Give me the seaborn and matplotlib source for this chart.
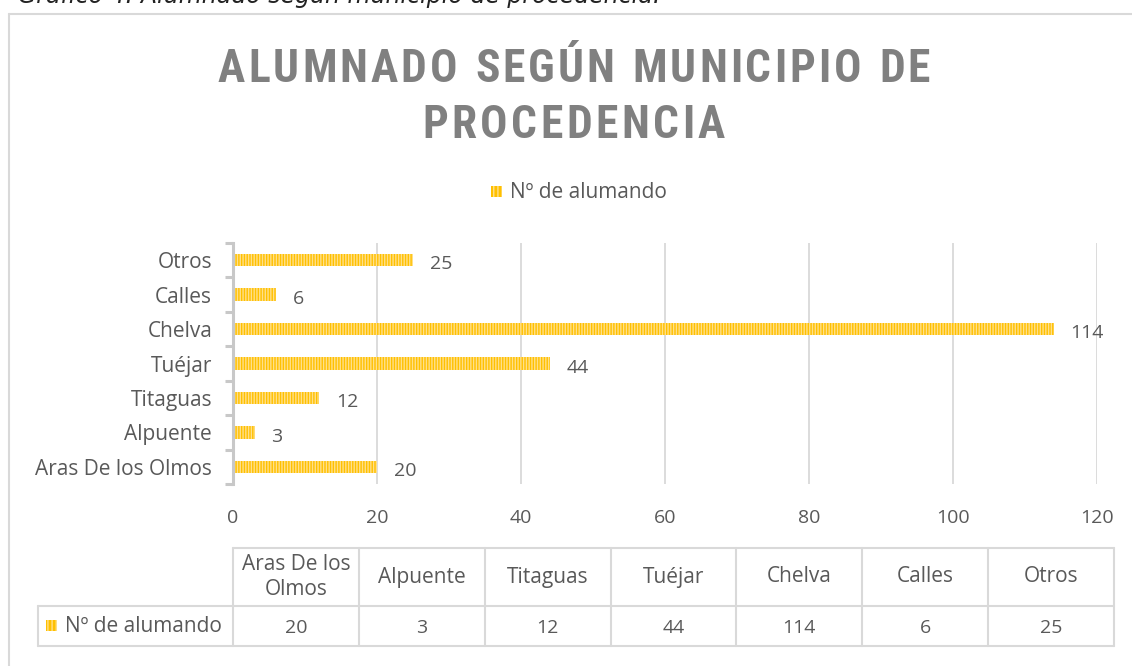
import matplotlib
matplotlib.use('Agg')
import numpy as np
import pandas as pd
import matplotlib.pyplot as plt
import seaborn as sns
from matplotlib.patches import Rectangle
from matplotlib.lines import Line2D
from matplotlib.font_manager import FontProperties, fontManager

# ---------------- data ----------------
categories = ["Aras De los Olmos", "Alpuente", "Titaguas", "Tuéjar", "Chelva", "Calles", "Otros"]
values = [20, 3, 12, 44, 114, 6, 25]
table_headers = ["Aras De los\nOlmos", "Alpuente", "Titaguas", "Tuéjar", "Chelva", "Calles", "Otros"]
series_name = "Nº de alumando"
x_ticks = [0, 20, 40, 60, 80, 100, 120]
title_lines = ["ALUMNADO SEGÚN MUNICIPIO DE", "PROCEDENCIA"]
caption = "Gráfico 4: Alumnado según municipio de procedencia."

# ---------------- style ----------------
W, H = 1132, 666
BAR = "#FFC000"
STRIPE = "#FFE08A"
TXT = "#595959"
GRID = "#d9d9d9"
sns.set_theme(style="white")
plt.rcParams['font.family'] = ['Open Sans', 'DejaVu Sans']
plt.rcParams['hatch.linewidth'] = 1.0
HATCH = "||||||"

fig = plt.figure(figsize=(W / 100, H / 100), dpi=100)
bg = fig.add_axes([0, 0, 1, 1], zorder=0)
bg.set_xlim(0, W)
bg.set_ylim(H, 0)
bg.axis('off')

# outer chart frame (left and top edges visible)
bg.add_line(Line2D([8.5, 8.5], [13.5, H], color=GRID, lw=1.5))
bg.add_line(Line2D([8.5, W], [13.5, 13.5], color=GRID, lw=1.5))

# clipped caption on top
bg.text(18, 3, caption, fontsize=17, style='italic', color='#222222',
        ha='left', va='baseline', family=['DejaVu Sans'])

# ---------------- main bar chart ----------------
ax = fig.add_axes([233 / W, 1 - 484 / H, (1097 - 233) / W, (484 - 243) / H], zorder=2)
ax.patch.set_alpha(0)
df = pd.DataFrame({"Municipio": categories, "n": values})
sns.barplot(data=df, x="n", y="Municipio", order=categories[::-1], orient="h",
            color=BAR, saturation=1, width=0.36, hatch=HATCH, edgecolor=STRIPE,
            linewidth=0, ax=ax)
ax.set_xlim(0, 120)
ax.set_ylim(6.5, -0.5)
ax.set_xticks(x_ticks)
ax.set_xticklabels([str(t) for t in x_ticks])
ax.set_xlabel("")
ax.set_ylabel("")
ax.set_axisbelow(True)
ax.grid(axis='x', color=GRID, lw=1.3)
ax.grid(axis='y', visible=False)
for s in ['top', 'right', 'bottom']:
    ax.spines[s].set_visible(False)
ax.spines['left'].set_color('#c8c8c8')
ax.spines['left'].set_linewidth(2.2)
ax.set_yticks(np.arange(-0.5, 7, 1), minor=True)
ax.tick_params(axis='y', which='minor', length=6, width=2.2, color='#c8c8c8', direction='out', left=True)
ax.tick_params(axis='y', which='major', length=0, pad=15, labelsize=15, labelcolor=TXT)
ax.tick_params(axis='x', length=0, pad=18, labelsize=14, labelcolor=TXT)
for c in ax.containers:
    for p, v in zip(c.patches, c.datavalues):
        ax.annotate(str(int(v)), (p.get_width(), p.get_y() + p.get_height() / 2),
                    xytext=(12, -3), textcoords='offset points', ha='left', va='center',
                    fontsize=14, color=TXT)

# ---------------- title with letter spacing ----------------
fig.canvas.draw()
renderer = fig.canvas.get_renderer()
avail = {f.name for f in fontManager.ttflist}
tfam = 'Roboto'
for cand in ['Liberation Sans Narrow', 'Roboto Condensed', 'DejaVu Sans Condensed', 'Open Sans Condensed', 'Roboto']:
    if cand in avail:
        tfam = cand
        break
MIN_TRACK = 3.0
SPACE = 12.0
title_specs = [(title_lines[0], 218, 930, 82), (title_lines[1], 422, 725, 138)]
base = 36
fp0 = FontProperties(family=[tfam, 'DejaVu Sans'], weight='bold', size=base)
def char_widths(line, fp):
    out = []
    for ch in line:
        if ch == ' ':
            out.append(None)
        else:
            out.append(renderer.get_text_width_height_descent(ch, fp, ismath=False)[0])
    return out
line0 = title_lines[0]
w0 = [w for w in char_widths(line0, fp0) if w is not None]
n_sp = line0.count(' ')
avail_w = (930 - 218) - (len(line0) - 1) * MIN_TRACK - n_sp * SPACE
tsize = min(37, base * avail_w / sum(w0))
tfp = FontProperties(family=[tfam, 'DejaVu Sans'], weight='bold', size=tsize)
for line, x0, x1, ybase in title_specs:
    ws = [w if w is not None else SPACE for w in char_widths(line, tfp)]
    track = ((x1 - x0) - sum(ws)) / (len(line) - 1)
    x = x0
    for ch, w in zip(line, ws):
        if ch != ' ':
            bg.text(x, ybase, ch, fontproperties=tfp, color='#808080', ha='left', va='baseline')
        x += w + track

# ---------------- legend (top) ----------------
bg.add_patch(Rectangle((491, 186), 11, 11, facecolor=BAR, edgecolor=STRIPE, lw=0, hatch='||||'))
bg.text(510, 192, series_name, fontsize=15, color=TXT, ha='left', va='center')

# ---------------- data table ----------------
col_edges = np.linspace(233, 1114, len(categories) + 1)
y_top, y_mid, y_bot = 548, 606, 646
tl = dict(color=GRID, lw=1.5)
bg.add_line(Line2D([col_edges[0], col_edges[-1]], [y_top, y_top], **tl))
bg.add_line(Line2D([38, col_edges[-1]], [y_mid, y_mid], **tl))
bg.add_line(Line2D([38, col_edges[-1]], [y_bot, y_bot], **tl))
bg.add_line(Line2D([38, 38], [y_mid, y_bot], **tl))
for xe in col_edges:
    bg.add_line(Line2D([xe, xe], [y_top, y_bot], **tl))
for i, (hdr, v) in enumerate(zip(table_headers, values)):
    xc = (col_edges[i] + col_edges[i + 1]) / 2
    bg.text(xc, (y_top + y_mid) / 2, hdr, fontsize=15, color=TXT, ha='center', va='center',
            linespacing=1.25)
    bg.text(xc, (y_mid + y_bot) / 2 + 2, str(v), fontsize=14, color=TXT, ha='center', va='center')
bg.add_patch(Rectangle((46, 620), 11, 11, facecolor=BAR, edgecolor=STRIPE, lw=0, hatch='||||'))
bg.text(65, 626, series_name, fontsize=15, color=TXT, ha='left', va='center')

fig.savefig("out.png", dpi=100)
